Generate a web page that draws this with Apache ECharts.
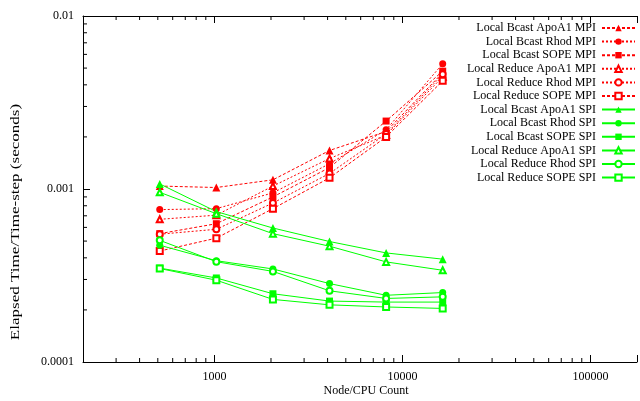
<!DOCTYPE html>
<html>
<head>
<meta charset="utf-8">
<script src="https://cdn.jsdelivr.net/npm/echarts@6/dist/echarts.min.js"></script>
<style>
html, body { margin: 0; padding: 0; background: #fff; }
#chart { width: 640px; height: 401px; }
</style>
</head>
<body>
<div id="chart"></div>
<script>
// node counts on the x axis
const nodeCounts = [512, 1024, 2048, 4096, 8192, 16384];

// elapsed time per time-step (seconds)
const bcastApoA1Mpi  = [0.00104, 0.00102, 0.00113, 0.00167, 0.00215, 0.0047];
const bcastRhodMpi   = [0.00076, 0.00077, 0.00095, 0.0014, 0.0022, 0.0053];
const bcastSopeMpi   = [0.000552, 0.00063, 0.0009, 0.00133, 0.00247, 0.0048];
const reduceApoA1Mpi = [0.000668, 0.000706, 0.00104, 0.0015, 0.00205, 0.00445];
const reduceRhodMpi  = [0.000548, 0.000585, 0.00083, 0.00123, 0.00208, 0.0046];
const reduceSopeMpi  = [0.000438, 0.00052, 0.00077, 0.00116, 0.002, 0.00422];
const bcastApoA1Spi  = [0.00107, 0.00074, 0.000595, 0.000497, 0.000427, 0.000393];
const bcastRhodSpi   = [0.000473, 0.000385, 0.000345, 0.000284, 0.000243, 0.000252];
const bcastSopeSpi   = [0.000349, 0.000306, 0.000248, 0.000225, 0.000222, 0.000222];
const reduceApoA1Spi = [0.000957, 0.00072, 0.000552, 0.000467, 0.000379, 0.000339];
const reduceRhodSpi  = [0.000505, 0.00038, 0.000334, 0.000258, 0.000233, 0.000238];
const reduceSopeSpi  = [0.000347, 0.000297, 0.00023, 0.000214, 0.000208, 0.000204];

const seriesNames = [
    'Local Bcast ApoA1 MPI', 'Local Bcast Rhod MPI', 'Local Bcast SOPE MPI',
    'Local Reduce ApoA1 MPI', 'Local Reduce Rhod MPI', 'Local Reduce SOPE MPI',
    'Local Bcast ApoA1 SPI', 'Local Bcast Rhod SPI', 'Local Bcast SOPE SPI',
    'Local Reduce ApoA1 SPI', 'Local Reduce Rhod SPI', 'Local Reduce SOPE SPI'
];
const seriesValues = [
    bcastApoA1Mpi, bcastRhodMpi, bcastSopeMpi, reduceApoA1Mpi, reduceRhodMpi, reduceSopeMpi,
    bcastApoA1Spi, bcastRhodSpi, bcastSopeSpi, reduceApoA1Spi, reduceRhodSpi, reduceSopeSpi
];

// axis ranges and tick labels
const xMin = 200, xMax = 177000;
const yMin = 0.0001, yMax = 0.01;
const xTickLabels = [1000, 10000, 100000];
const yTickLabels = [0.0001, 0.001, 0.01];
// minor ticks at 2..9 of every decade
const xMinorTicks = [];
const yMinorTicks = [];
[100, 1000, 10000, 100000].forEach(d => {
    for (let m = 2; m <= 9; m++) if (m * d > xMin && m * d < xMax) xMinorTicks.push(m * d);
});
[0.0001, 0.001].forEach(d => {
    for (let m = 2; m <= 9; m++) yMinorTicks.push(+(m * d).toPrecision(3));
});

const font = '"Liberation Serif", "DejaVu Serif", serif';
const symbols = ['triangle', 'circle', 'rect', 'emptyTriangle', 'emptyCircle', 'emptyRect'];
const symbolSizes = [8, 7, 7, 6, 6, 6];
const dashes = [[3, 2], [2, 2], [3, 2], [2, 2], [2, 2], [3, 2]];

var chart = echarts.init(document.getElementById('chart'));

var lineSeries = seriesNames.map((name, i) => {
    const mpi = i < 6;
    return {
        name: name,
        type: 'line',
        data: nodeCounts.map((n, j) => [n, seriesValues[i][j]]),
        symbol: symbols[i % 6],
        symbolSize: symbolSizes[i % 6],
        color: mpi ? '#ff0000' : '#00ff00',
        lineStyle: { width: 1, type: mpi ? dashes[i % 6] : 'solid' },
        itemStyle: { borderWidth: 1 },
        emphasis: { disabled: true },
        animation: false,
        z: 3
    };
});

// minor ticks drawn through the axis scales
var minorX = {
    type: 'custom', silent: true, animation: false, z: 2,
    data: xMinorTicks.map(v => [v, yMin]),
    renderItem: function (params, api) {
        var b = api.coord([api.value(0), yMin]);
        var t = api.coord([api.value(0), yMax]);
        return { type: 'group', children: [
            { type: 'line', shape: { x1: b[0], y1: b[1], x2: b[0], y2: b[1] - 4 }, style: { stroke: '#000', lineWidth: 1 } },
            { type: 'line', shape: { x1: t[0], y1: t[1], x2: t[0], y2: t[1] + 4 }, style: { stroke: '#000', lineWidth: 1 } }
        ] };
    }
};
var minorY = {
    type: 'custom', silent: true, animation: false, z: 2,
    data: yMinorTicks.map(v => [xMin, v]),
    renderItem: function (params, api) {
        var p = api.coord([xMin, api.value(1)]);
        return { type: 'line', shape: { x1: p[0], y1: p[1], x2: p[0] + 4, y2: p[1] }, style: { stroke: '#000', lineWidth: 1 } };
    }
};

function fmt(v) {
    var r = +v.toPrecision(3);
    return (xTickLabels.indexOf(r) >= 0 || yTickLabels.indexOf(r) >= 0) ? String(r) : '';
}

var axisCommon = {
    axisLine: { lineStyle: { color: '#000', width: 1 } },
    axisTick: { inside: true, length: 7, lineStyle: { color: '#000' } },
    splitLine: { show: false },
    minorTick: { show: false }
};

var option = {
    animation: false,
    backgroundColor: '#fff',
    grid: { left: 83, right: 0, top: 16, bottom: 39 },
    xAxis: [
        Object.assign({
            type: 'log', logBase: 10, min: xMin, max: xMax, position: 'bottom',
            axisLabel: { formatter: fmt, margin: 9, color: '#000', fontSize: 12, fontFamily: font }
        }, axisCommon),
        Object.assign({
            type: 'log', logBase: 10, min: xMin, max: xMax, position: 'top',
            axisLabel: { show: false }
        }, axisCommon)
    ],
    yAxis: Object.assign({
        type: 'log', logBase: 10, min: yMin, max: yMax,
        axisLabel: { formatter: fmt, margin: 9, color: '#000', fontSize: 12, fontFamily: font }
    }, axisCommon),
    legend: {
        data: seriesNames,
        orient: 'vertical',
        right: 4,
        top: 22,
        padding: 0,
        align: 'right',
        itemWidth: 33,
        itemHeight: 8,
        itemGap: 1.6,
        selectedMode: false,
        itemStyle: { borderWidth: 1 },
        textStyle: { color: '#000', fontSize: 12, fontFamily: font, lineHeight: 12, padding: [0, 1, 0, 0] }
    },
    graphic: [
        {
            type: 'text', x: 16, y: 222, rotation: Math.PI / 2, scaleX: 1.42,
            style: { text: 'Elapsed Time/Time-step (seconds)', fill: '#000', font: '12px ' + font, align: 'center', verticalAlign: 'middle' }
        },
        {
            type: 'text', x: 366, y: 391,
            style: { text: 'Node/CPU Count', fill: '#000', font: '12px ' + font, align: 'center', verticalAlign: 'middle' }
        }
    ],
    series: lineSeries.concat([minorX, minorY])
};

chart.setOption(option);
</script>
</body>
</html>
